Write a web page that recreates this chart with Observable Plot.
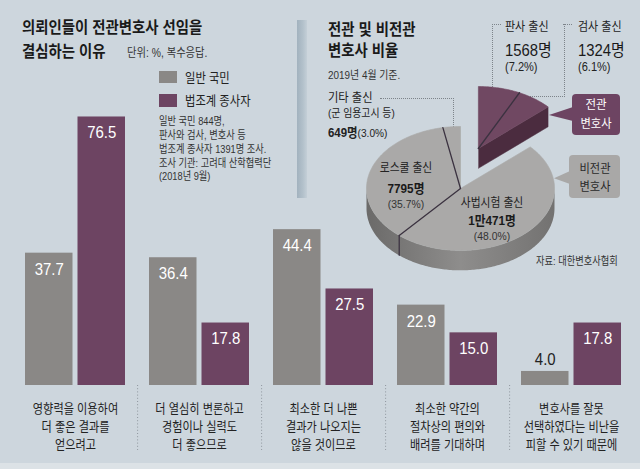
<!DOCTYPE html>
<html lang="ko">
<head>
<meta charset="utf-8">
<script src="https://cdn.jsdelivr.net/npm/d3@7"></script>
<script src="https://cdn.jsdelivr.net/npm/@observablehq/plot@0.6"></script>
<style>
html,body{margin:0;padding:0;background:#cdd6dd;}
#chart{position:relative;width:640px;height:469px;background:#cdd6dd;overflow:hidden;font-family:"Liberation Sans","Noto Sans CJK KR",sans-serif;}
#chart svg{position:absolute;left:0;top:0;}
.t{position:absolute;white-space:nowrap;line-height:1;}
.blk{position:absolute;}
</style>
</head>
<body>
<div id="chart"></div>
<script>
// ---------------- data ----------------
const categories = [
  "영향력을 이용하여\n더 좋은 결과를\n얻으려고",
  "더 열심히 변론하고\n경험이나 실력도\n더 좋으므로",
  "최소한 더 나쁜\n결과가 나오지는\n않을 것이므로",
  "최소한 약간의\n절차상의 편의와\n배려를 기대하며",
  "변호사를 잘못\n선택하였다는 비난을\n피할 수 있기 때문에"
];
const seriesNames = ["일반 국민", "법조계 종사자"];
const publicValues = [37.7, 36.4, 44.4, 22.9, 4.0];
const legalValues = [76.5, 17.8, 27.5, 15.0, 17.8];
const seriesColors = ["#8a8886", "#6d4462"];

const pieLabels = ["판사 출신", "검사 출신", "사법시험 출신", "로스쿨 출신", "기타 출신"];
const pieCounts = ["1568명", "1324명", "1만471명", "7795명", "649명"];
const pieShares = [7.2, 6.1, 48.0, 35.7, 3.0];
const pieGroups = ["전관", "전관", "비전관", "비전관", "비전관"];

const titleLeft = ["의뢰인들이 전관변호사 선임을", "결심하는 이유"];
const unitNote = "단위: %, 복수응답.";
const surveyNotes = ["일반 국민 844명,", "판사와 검사, 변호사 등", "법조계 종사자 1391명 조사.", "조사 기관: 고려대 산학협력단", "(2018년 9월)"];
const titleRight = ["전관 및 비전관", "변호사 비율"];
const dateNote = "2019년 4월 기준.";
const sourceNote = "자료: 대한변호사협회";

// ---------------- helpers ----------------
const chart = document.getElementById("chart");
function block(css) {
  const d = document.createElement("div");
  d.className = "blk";
  Object.assign(d.style, css);
  chart.appendChild(d);
  return d;
}
function label(html, x, y, o = {}) {
  const {size = 12, weight = 400, color = "#222", anchor = "start", sx = 0.88} = o;
  const d = document.createElement("div");
  d.className = "t";
  d.innerHTML = html;
  d.style.fontSize = size + "px";
  d.style.fontWeight = weight;
  d.style.color = color;
  d.style.top = (y - 0.5 * size) + "px";
  d.style.left = x + "px";
  if (anchor === "middle") {
    d.style.transformOrigin = "50% 50%";
    d.style.transform = `translateX(-50%) scaleX(${sx})`;
  } else {
    d.style.transformOrigin = "0 50%";
    d.style.transform = `scaleX(${sx})`;
  }
  chart.appendChild(d);
  return d;
}
function condense(svg, kH, kD) {
  svg.querySelectorAll("text").forEach(t => {
    const k = /[\uac00-\ud7a3]/.test(t.textContent) ? kH : kD;
    const tr = t.getAttribute("transform");
    if (tr) t.setAttribute("transform", tr + ` scale(${k},1)`);
    else {
      const x = +t.getAttribute("x") || 0, y = +t.getAttribute("y") || 0;
      t.removeAttribute("x"); t.removeAttribute("y");
      t.setAttribute("transform", `translate(${x},${y}) scale(${k},1)`);
    }
  });
}

// ---------------- bar chart ----------------
const rows = categories.flatMap((c, i) => [
  {cat: c, series: 0, value: publicValues[i]},
  {cat: c, series: 1, value: legalValues[i]}
]);
const half = 26.25;
function valueLabels(series, dx) {
  const r = rows.filter(d => d.series === series);
  return [
    Plot.text(r.filter(d => d.value >= 10), {x: "cat", y: "value", text: d => d.value.toFixed(1), dx, dy: 16,
      fill: "white", fontSize: 17, fontFamily: "Liberation Sans"}),
    Plot.text(r.filter(d => d.value < 10), {x: "cat", y: "value", text: d => d.value.toFixed(1), dx, dy: -12,
      fill: "#222", fontSize: 17, fontFamily: "Liberation Sans"})
  ];
}
const barSvg = Plot.plot({
  width: 640, height: 469,
  marginLeft: 24, marginRight: 19, marginTop: 34, marginBottom: 84,
  x: {domain: categories, paddingInner: 0.195, paddingOuter: 0, axis: null},
  y: {domain: [0, 100], axis: null},
  style: {background: "transparent", overflow: "visible"},
  marks: [
    Plot.ruleX(categories.slice(0, -1), {x: d => d, y1: 0, y2: -18.5, dx: 62.1,
      stroke: "#8e969d", strokeWidth: 1, strokeDasharray: "1,2.2"}),
    Plot.barY(rows.filter(d => d.series === 0), {x: "cat", y: "value", fill: seriesColors[0], insetRight: 52.5}),
    Plot.barY(rows.filter(d => d.series === 1), {x: "cat", y: "value", fill: seriesColors[1], insetLeft: 52.5}),
    ...valueLabels(0, -half),
    ...valueLabels(1, half),
    Plot.text(categories, {x: d => d, y: 0, text: d => d, dy: 15, lineAnchor: "top", lineHeight: 1.38,
      fontSize: 13, fontFamily: "Noto Sans CJK KR", fill: "#222"})
  ]
});
condense(barSvg, 0.86, 0.88);
chart.appendChild(barSvg);

// ---------------- left texts ----------------
label(titleLeft[0], 22, 28, {size: 16, weight: 700, color: "#1a1a1a", sx: 0.9});
label(titleLeft[1], 22, 52, {size: 16, weight: 700, color: "#1a1a1a", sx: 0.9});
label(unitNote, 127, 53, {size: 12, color: "#333", sx: 0.86});
block({left: "159px", top: "71px", width: "18px", height: "12px", background: seriesColors[0]});
block({left: "159px", top: "94px", width: "18px", height: "13px", background: seriesColors[1]});
label(seriesNames[0], 185, 77, {size: 13, color: "#222", sx: 0.87});
label(seriesNames[1], 185, 100, {size: 13, color: "#222", sx: 0.87});
[121, 135, 149, 163, 176].forEach((y, i) => label(surveyNotes[i], 159, y, {size: 11, color: "#333", sx: 0.84}));

// divider
block({left: "297px", top: "20px", width: "10px", height: "178px",
  background: "linear-gradient(to right, #a2b2be, #b3c1cb 60%, #c4cfd7)"});

// dotted frames (under the pie)
const dot = "1px dotted #7d848a";
block({left: "492px", top: "24px", width: "71px", height: "72px", borderLeft: dot, borderRight: dot, borderBottom: dot});
block({left: "492px", top: "24px", width: "9px", height: "0px", borderTop: dot});
block({left: "563px", top: "24px", width: "9px", height: "0px", borderTop: dot});
block({left: "380px", top: "98px", width: "73px", height: "28px", borderTop: dot, borderRight: dot});

// ---------------- pie ----------------
const TAU = 2 * Math.PI;
const total = d3.sum(pieShares);
let cum = 0;
const slices = pieShares.map((v, i) => {
  const a0 = cum / total * TAU; cum += v;
  return {i, group: pieGroups[i], a0, a1: cum / total * TAU};
});
const EXPLODE = {"전관": [0.19, -0.645], "비전관": [0, 0]};
const DEPTH = 0.32;
const rim = (a, off, dz = 0) => ({x: off[0] + Math.sin(a), y: off[1] - Math.cos(a) + dz});
const ctr = (off, dz = 0) => ({x: off[0], y: off[1] + dz});
function arcPts(a0, a1, off, dz = 0) {
  const n = Math.max(2, Math.ceil((a1 - a0) / (Math.PI / 180)));
  return d3.range(n + 1).map(k => rim(a0 + (a1 - a0) * k / n, off, dz));
}
const tops = [], rims = [], radials = [], seps = [];
slices.forEach((s, k) => {
  const off = EXPLODE[s.group];
  tops.push([ctr(off), ...arcPts(s.a0, s.a1, off), ctr(off)].map(p => ({...p, id: "t" + k, group: s.group})));
  const lo = Math.max(s.a0, Math.PI / 2), hi = Math.min(s.a1, 3 * Math.PI / 2);
  if (lo < hi) rims.push([...arcPts(lo, hi, off), ...arcPts(lo, hi, off, DEPTH).reverse()].map(p => ({...p, id: "r" + k, group: s.group})));
  const prev = slices[k - 1];
  if (prev && prev.group === s.group) {
    seps.push([ctr(off), rim(s.a0, off)].map(p => ({...p, id: "s" + k, group: s.group})));
    if (s.a0 > Math.PI / 2 && s.a0 < 3 * Math.PI / 2)
      seps.push([rim(s.a0, off), rim(s.a0, off, DEPTH)].map(p => ({...p, id: "v" + k, group: s.group})));
  }
});
for (const g of ["전관", "비전관"]) {
  const off = EXPLODE[g];
  const ss = slices.filter(s => s.group === g);
  const g0 = d3.min(ss, s => s.a0), g1 = d3.max(ss, s => s.a1);
  if (Math.sin(g1) > 1e-6) radials.push([ctr(off), rim(g1, off), rim(g1, off, DEPTH), ctr(off, DEPTH)].map(p => ({...p, id: "f1" + g, group: g})));
  if (-Math.sin(g0) > 1e-6) radials.push([ctr(off), rim(g0, off), rim(g0, off, DEPTH), ctr(off, DEPTH)].map(p => ({...p, id: "f0" + g, group: g})));
}
const flat = a => a.flat();
const inG = (arr, g) => flat(arr).filter(p => p.group === g);
const pieColors = {"전관": {top: "#704862", side: "#4b2c3f"}, "비전관": {top: "#aaa9a8", side: "#7f7e7d"}};
function groupMarks(g) {
  const c = pieColors[g];
  return [
    Plot.line(inG(radials, g), {x: "x", y: "y", z: "id", fill: c.side, stroke: c.side, strokeWidth: 0.5}),
    Plot.line(inG(rims, g), {x: "x", y: "y", z: "id", fill: g === "비전관" ? "#7f7e7e" : c.side, stroke: "none"}),
    Plot.line(inG(tops, g), {x: "x", y: "y", z: "id", fill: c.top, stroke: c.top, strokeWidth: 0.6}),
    Plot.line(inG(seps, g), {x: "x", y: "y", z: "id", stroke: "#3b3240", strokeWidth: 1.3})
  ];
}
const pieSvg = Plot.plot({
  width: 640, height: 469,
  x: {domain: [-1, 1], range: [366, 554], axis: null},
  y: {domain: [-1, 1], range: [126, 250], axis: null},
  style: {background: "transparent", overflow: "visible"},
  marks: [...groupMarks("전관"), ...groupMarks("비전관")]
});
// gradient for the grey rim side
const defs = d3.select(pieSvg).insert("defs", ":first-child");
const grad = defs.append("linearGradient").attr("id", "pieSide").attr("gradientUnits", "userSpaceOnUse")
  .attr("x1", 366).attr("x2", 554).attr("y1", 0).attr("y2", 0);
grad.append("stop").attr("offset", 0).attr("stop-color", "#6b6a69");
grad.append("stop").attr("offset", 0.5).attr("stop-color", "#8e8d8c");
grad.append("stop").attr("offset", 1).attr("stop-color", "#737271");
d3.select(pieSvg).selectAll('[fill="#7f7e7e"]').attr("fill", "url(#pieSide)");
chart.appendChild(pieSvg);

// ---------------- right texts ----------------
label(titleRight[0], 328, 30, {size: 16, weight: 700, color: "#1a1a1a", sx: 0.9});
label(titleRight[1], 328, 51, {size: 16, weight: 700, color: "#1a1a1a", sx: 0.9});
label(dateNote, 328, 75, {size: 11, color: "#333", sx: 0.9});
const pct = i => `(${pieShares[i].toFixed(1)}%)`;
// 기타
label(pieLabels[4], 328, 98, {size: 12.5, color: "#222", sx: 0.9});
label("(군 임용고시 등)", 328, 114, {size: 11.5, color: "#222", sx: 0.86});
label(`<b style="font-size:13px">${pieCounts[4]}</b>${pct(4)}`, 328, 132, {size: 11.5, color: "#222", sx: 0.88});
// 판사 / 검사
[[0, 505], [1, 578]].forEach(([i, x]) => {
  label(pieLabels[i], x, 27, {size: 12.5, color: "#222", sx: 0.88});
  label(pieCounts[i], x, 50, {size: 16.5, color: "#1a1a1a", sx: 0.9});
  label(pct(i), x, 67, {size: 12, color: "#222", sx: 0.92});
});
// inner labels
label(pieLabels[3], 406, 168, {size: 12.5, color: "#222", anchor: "middle", sx: 0.86});
label(pieCounts[3], 406, 188, {size: 13, weight: 700, color: "#1a1a1a", anchor: "middle", sx: 0.9});
label(pct(3), 406, 205, {size: 11.5, color: "#333", anchor: "middle", sx: 0.9});
label(pieLabels[2], 492, 203, {size: 12.5, color: "#222", anchor: "middle", sx: 0.86});
label(pieCounts[2], 492, 220, {size: 13, weight: 700, color: "#1a1a1a", anchor: "middle", sx: 0.9});
label(pct(2), 492, 237, {size: 11.5, color: "#333", anchor: "middle", sx: 0.9});

// group call-out boxes
block({left: "549px", top: "107px", width: "24px", height: "14px", background: "#6d4462",
  clipPath: "polygon(0 57%, 100% 0, 100% 100%)"});
block({left: "572px", top: "94px", width: "48px", height: "41px", background: "#6d4462", borderRadius: "4px"});
label("전관", 596, 105, {size: 12.5, color: "#fff", anchor: "middle", sx: 0.92});
label("변호사", 596, 124, {size: 12.5, color: "#fff", anchor: "middle", sx: 0.9});
block({left: "554px", top: "171px", width: "16px", height: "13px", background: "#a9a8a7",
  clipPath: "polygon(0 55%, 100% 0, 100% 100%)"});
block({left: "569px", top: "155px", width: "51px", height: "43px", background: "#a9a8a7", borderRadius: "4px"});
label("비전관", 595, 169, {size: 12.5, color: "#2a2a2a", anchor: "middle", sx: 0.9});
label("변호사", 595, 187, {size: 12.5, color: "#2a2a2a", anchor: "middle", sx: 0.9});

label(sourceNote, 536, 261, {size: 11, color: "#333", sx: 0.84});

// bottom strip
block({left: "0px", top: "463px", width: "640px", height: "6px", background: "#dce2e6"});
</script>
</body>
</html>
